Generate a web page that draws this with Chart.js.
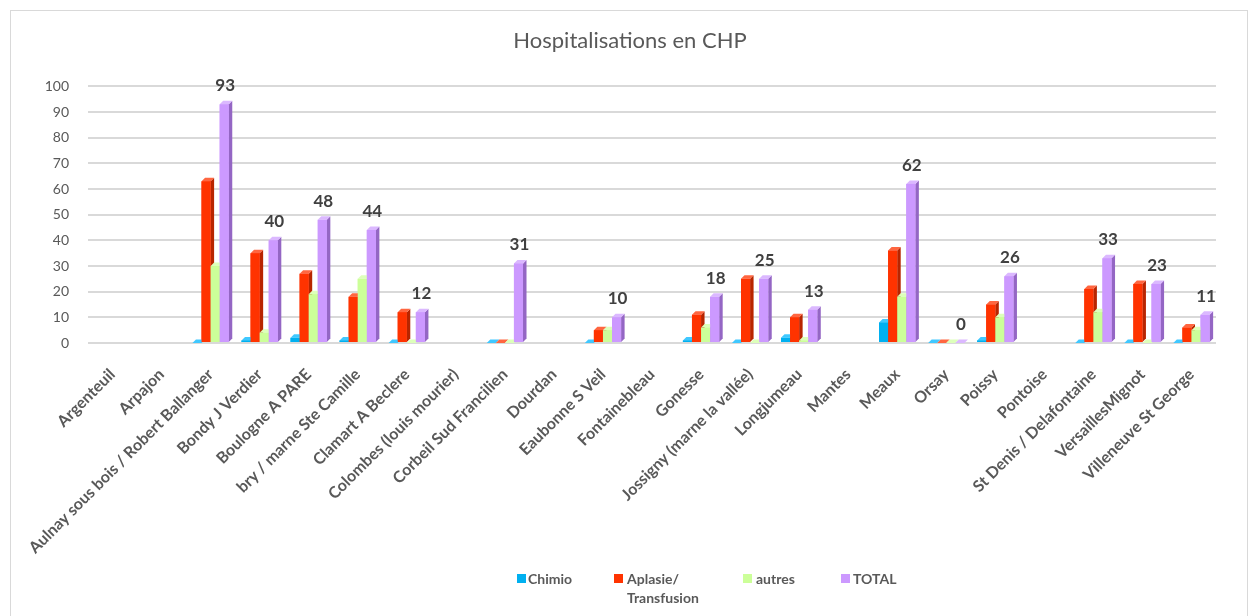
<!DOCTYPE html>
<html><head><meta charset="utf-8">
<script src="https://cdn.jsdelivr.net/npm/chart.js@4.4.0/dist/chart.umd.min.js"></script>
<style>
html,body{margin:0;padding:0;background:#fff;}
#wrap{position:relative;width:1260px;height:616px;overflow:hidden;}
#frame{position:absolute;left:10px;top:10px;width:1238px;height:610px;border:1px solid #d9d9d9;box-sizing:border-box;}
canvas{position:absolute;left:0;top:0;}
#legend{position:absolute;top:569px;left:0;width:1260px;height:44px;font-family:Lato,"Open Sans",sans-serif;font-weight:bold;font-size:14px;color:#595959;}
.li{position:absolute;top:0;line-height:19px;}
.sw{position:absolute;top:5px;width:9px;height:9px;}
</style></head>
<body><div id="wrap"><div id="frame"></div><canvas id="c" width="1260" height="616"></canvas><div id="legend"></div></div>
<script>
const categories = ["Argenteuil","Arpajon","Aulnay sous bois / Robert Ballanger","Bondy J Verdier","Boulogne A PARE","bry / marne Ste Camille","Clamart A Beclere","Colombes (louis mourier)","Corbeil Sud Francilien","Dourdan","Eaubonne S Veil","Fontainebleau","Gonesse","Jossigny (marne la vallée)","Longjumeau","Mantes","Meaux","Orsay","Poissy","Pontoise","St Denis / Delafontaine","VersaillesMignot","Villeneuve St George"];
const chimio =    [null,null,0,1,2,1,0,null,0,null,0,null,1,0,2,null,8,0,1,null,0,0,0];
const aplasie =   [null,null,63,35,27,18,12,null,0,null,5,null,11,25,10,null,36,0,15,null,21,23,6];
const autres =    [null,null,30,4,19,25,0,null,0,null,5,null,6,0,1,null,18,0,10,null,12,0,5];
const total =     [null,null,93,40,48,44,12,null,31,null,10,null,18,25,13,null,62,0,26,null,33,23,11];
const seriesNames = ["Chimio","Aplasie/ Transfusion","autres","TOTAL"];
const legendLines = [["Chimio"],["Aplasie/","Transfusion"],["autres"],["TOTAL"]];
const yTicks = [0,10,20,30,40,50,60,70,80,90,100];

const front = ["#00B0F0","#FF3300","#CCFF99","#CC99FF"];
const side  = ["#0086b8","#b82500","#9fcc70","#9466c4"];
const top_  = ["#40c8ff","#ff6640","#ddffbb","#dbb8ff"];
const FONT = 'Lato, "Open Sans", sans-serif';

const bars3d = {
  id:'bars3d',
  afterDatasetsDraw(chart){
    const ctx = chart.ctx, d = 3.5;
    const n = chart.data.labels.length;
    ctx.save();
    for(let i=0;i<n;i++){
      chart.data.datasets.forEach((ds,k)=>{
        const el = chart.getDatasetMeta(k).data[i];
        if(!el || ds.data[i]===null || ds.data[i]===undefined) return;
        const {x,y,base,width} = el.getProps(['x','y','base','width'],true);
        const l = x-width/2, r = x+width/2;
        ctx.fillStyle = side[k];
        ctx.beginPath();ctx.moveTo(r,y);ctx.lineTo(r+d,y-d);ctx.lineTo(r+d,base-d);ctx.lineTo(r,base);ctx.closePath();ctx.fill();
        ctx.fillStyle = top_[k];
        ctx.beginPath();ctx.moveTo(l,y);ctx.lineTo(l+d,y-d);ctx.lineTo(r+d,y-d);ctx.lineTo(r,y);ctx.closePath();ctx.fill();
        ctx.fillStyle = front[k];
        ctx.fillRect(l,y,width,base-y);
      });
    }
    const meta = chart.getDatasetMeta(3);
    ctx.font = 'bold 17px ' + FONT;
    ctx.fillStyle = '#404040';
    ctx.textAlign = 'center';
    ctx.textBaseline = 'bottom';
    meta.data.forEach((el,i)=>{
      const v = total[i];
      if(v===null) return;
      ctx.fillText(String(v), el.x+1, el.y-10);
    });
    ctx.restore();
  }
};

const datasets = [chimio,aplasie,autres,total].map((arr,k)=>({
  label: seriesNames[k], data: arr, backgroundColor: front[k], borderWidth:0,
  categoryPercentage:0.74, barPercentage:1.0
}));

new Chart(document.getElementById('c'),{
  type:'bar',
  data:{labels:categories,datasets},
  options:{
    responsive:false, animation:false,
    layout:{padding:{left:44,right:44,top:0,bottom:0}},
    plugins:{
      legend:{display:false},
      tooltip:{enabled:false},
      title:{display:true,text:'Hospitalisations en CHP',color:'#595959',
        font:{family:FONT,size:22,weight:'normal'},padding:{top:28,bottom:32}}
    },
    scales:{
      y:{min:0,max:100,
        afterBuildTicks(s){s.ticks = yTicks.map(v=>({value:v}));},
        afterFit(s){s.width=44;},
        grid:{color:'#d9d9d9',lineWidth:2,drawTicks:false},
        border:{display:false},
        ticks:{color:'#595959',padding:19,font:{family:FONT,size:14}}
      },
      x:{
        afterFit(s){s.height=273;},
        grid:{display:false},
        border:{display:false},
        ticks:{color:'#595959',minRotation:45,maxRotation:45,autoSkip:false,padding:14,
          font:{family:FONT,size:16,weight:'bold'}}
      }
    }
  },
  plugins:[bars3d]
});

const lx = [[517,528],[614,627],[743,756],[841,853]];
const lg = document.getElementById('legend');
legendLines.forEach((lines,k)=>{
  const sw = document.createElement('div'); sw.className='sw';
  sw.style.left = lx[k][0]+'px'; sw.style.background = front[k]; lg.appendChild(sw);
  const t = document.createElement('div'); t.className='li';
  t.style.left = lx[k][1]+'px'; t.innerHTML = lines.join('<br>'); lg.appendChild(t);
});
</script></body></html>
